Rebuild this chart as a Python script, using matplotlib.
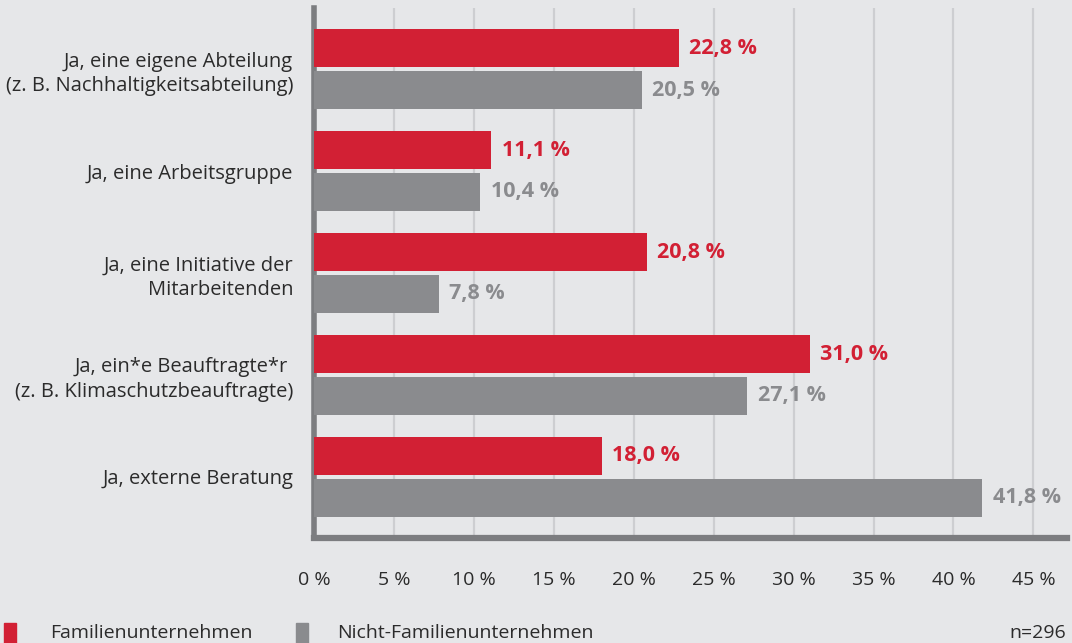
import matplotlib.pyplot as plt
import matplotlib.patches as mpatches
import numpy as np

# data
categories = [
    'Ja, eine eigene Abteilung\n(z. B. Nachhaltigkeitsabteilung)',
    'Ja, eine Arbeitsgruppe',
    'Ja, eine Initiative der\nMitarbeitenden',
    'Ja, ein*e Beauftragte*r \n(z. B. Klimaschutzbeauftragte)',
    'Ja, externe Beratung',
]
familie = [22.8, 11.1, 20.8, 31.0, 18.0]
nicht_familie = [20.5, 10.4, 7.8, 27.1, 41.8]
xticks = [0, 5, 10, 15, 20, 25, 30, 35, 40, 45]
series_names = ['Familienunternehmen', 'Nicht-Familienunternehmen']
note = 'n=296'

bg = '#e6e7e9'
red = '#d22034'
grey = '#8a8b8e'
axis_col = '#7c7d80'
text_col = '#2b2b2b'

plt.rcParams['font.family'] = ['Open Sans', 'DejaVu Sans']

fig = plt.figure(figsize=(10.72, 6.43), dpi=100)
fig.patch.set_facecolor(bg)
ax = fig.add_axes([314 / 1072, (643 - 538) / 643, (1067 - 314) / 1072, (538 - 8) / 643])
ax.set_facecolor(bg)

y = np.arange(len(categories))
h = 0.37
off = 0.205
ax.barh(y - off, familie, height=h, color=red, zorder=3)
ax.barh(y + off, nicht_familie, height=h, color=grey, zorder=3)

def fmt(v):
    return f'{v:.1f} %'.replace('.', ',')

for yi, v in zip(y, familie):
    ax.text(v + 0.65, yi - off, fmt(v), color=red, fontsize=15.5, fontweight='bold',
            va='center', ha='left', zorder=4)
for yi, v in zip(y, nicht_familie):
    ax.text(v + 0.65, yi + off, fmt(v), color=grey, fontsize=15.5, fontweight='bold',
            va='center', ha='left', zorder=4)

ax.set_xlim(0, 47.1)
ax.set_ylim(len(categories) - 0.4, -0.6)
ax.set_xticks(xticks)
ax.set_xticklabels([f'{t} %' for t in xticks], fontsize=14, color=text_col)
ax.set_yticks(y)
ax.set_yticklabels(categories, fontsize=14.5, color=text_col, linespacing=1.3)
ax.tick_params(axis='x', length=0, pad=24)
ax.tick_params(axis='y', length=0, pad=15)

ax.grid(axis='x', color='#cdced1', linewidth=1.6, zorder=0)
ax.set_axisbelow(True)
for s in ['top', 'right']:
    ax.spines[s].set_visible(False)
ax.spines['left'].set_color(axis_col)
ax.spines['left'].set_linewidth(4)
ax.spines['bottom'].set_color(axis_col)
ax.spines['bottom'].set_linewidth(4.5)

# legend at bottom
fig.patches.append(mpatches.Rectangle((4 / 1072, 0), 12 / 1072, 20 / 643,
                                      transform=fig.transFigure, color=red))
fig.patches.append(mpatches.Rectangle((296 / 1072, 0), 12 / 1072, 20 / 643,
                                      transform=fig.transFigure, color=grey))
fig.text(50 / 1072, 10 / 643, series_names[0], fontsize=14, color=text_col, va='center')
fig.text(337 / 1072, 10 / 643, series_names[1], fontsize=14, color=text_col, va='center')
fig.text(1066 / 1072, 10 / 643, note, fontsize=14, color=text_col, va='center', ha='right')

fig.savefig('out.png', dpi=100, facecolor=bg)
